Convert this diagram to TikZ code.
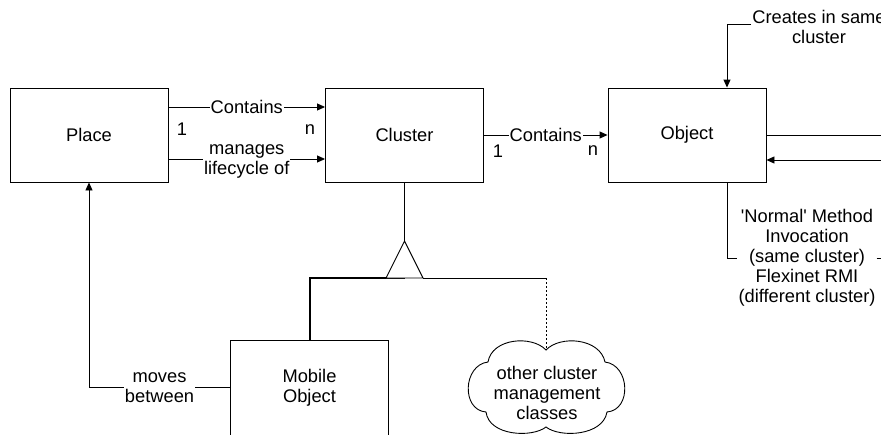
\documentclass[tikz,border=0pt]{standalone}
\usepackage{fontspec}
\setmainfont{Liberation Sans}
\usetikzlibrary{arrows.meta}
\begin{document}
\begin{tikzpicture}[x=1pt,y=-1pt,
  every node/.style={font=\fontsize{18.3}{20}\selectfont, inner sep=1pt},
  box/.style={draw, line width=0.9pt, minimum width=158pt, minimum height=94pt, align=center},
  conn/.style={line width=0.9pt},
  arr/.style={conn, -{Triangle[length=8pt,width=7pt]}},
  lbl/.style={fill=white, align=center}]
\useasboundingbox (0,0) rectangle (881,434);
% boxes
\node[box] (Place) at (89,135) {Place};
\node[box] (Cluster) at (404.5,135) {Cluster};
\node[box] (Object) at (687,135) {Object};
\node[box, minimum height=95pt] (Mobile) at (309.5,387.5) {Mobile\\Object};
% Place -> Cluster
\draw[arr] ([yshift=28pt]Place.east) -- node[lbl] (c1) {Contains} ([yshift=28pt]Cluster.west);
\draw[arr] ([yshift=-24pt]Place.east) -- node[lbl, yshift=-2pt] (m1) {manages\\lifecycle of} ([yshift=-24pt]Cluster.west);
\node (p1) at (182,129) {1};
\node (pn) at (310,130) {n};
% Cluster -> Object
\draw[arr] (Cluster.east) -- node[lbl] (c2) {Contains} (Object.west);
\node (c1one) at (498,151) {1};
\node (cn) at (593,151) {n};
% creates
\node[align=center] (cr) at (819,27) {Creates in same\\cluster};
\draw[arr] ([yshift=3pt]cr.west) -| ([xshift=40pt]Object.north);
% right side
\coordinate (r1) at (895,135);
\coordinate (r2) at (895,160);
\draw[conn] (Object.east) -- (r1);
\draw[arr] (r2) -- ([yshift=-25pt]Object.east);
% invocation
\node[align=center] (inv) at (807,258) {\textquotesingle Normal\textquotesingle{} Method\\Invocation\\(same cluster)\\Flexinet RMI\\(different cluster)};
\draw[conn] ([xshift=40pt]Object.south) |- (inv.west);
\coordinate (r3) at (895,258);
\draw[conn] (inv.east) -- (r3);
% generalization
\coordinate (apex) at (404.5,241);
\coordinate (tb) at (404.5,278);
\coordinate (tl) at (386,278);
\coordinate (tr) at (423,278);
\coordinate (cor) at (546,278);
\coordinate (ct) at (546,350);
\draw[line width=2pt] (Mobile.north) |- (tb);
\draw[conn] (Cluster.south) -- (apex);
\draw[conn, fill=white] (apex) -- (tl) -- (tr) -- cycle;
\draw[line width=0.6pt] (tr) -- (cor);
\draw[line width=0.6pt, dash pattern=on 2pt off 2pt] (cor) -- (ct);
% cloud
\draw[conn] (546,350) .. controls (560,335) and (600,338) .. (605,362)
  .. controls (630,365) and (632,410) .. (607,412)
  .. controls (603,436) and (560,438) .. (546,427)
  .. controls (532,438) and (489,436) .. (486,412)
  .. controls (461,410) and (463,365) .. (488,362)
  .. controls (492,338) and (532,335) .. (546,350) -- cycle;
\node[align=center] (oc) at (547,392.5) {other cluster\\management\\classes};
% moves between
\draw[arr] (Mobile.west) -| node[lbl, pos=0.25] (mv) {moves\\between} (Place.south);
\end{tikzpicture}
\end{document}
